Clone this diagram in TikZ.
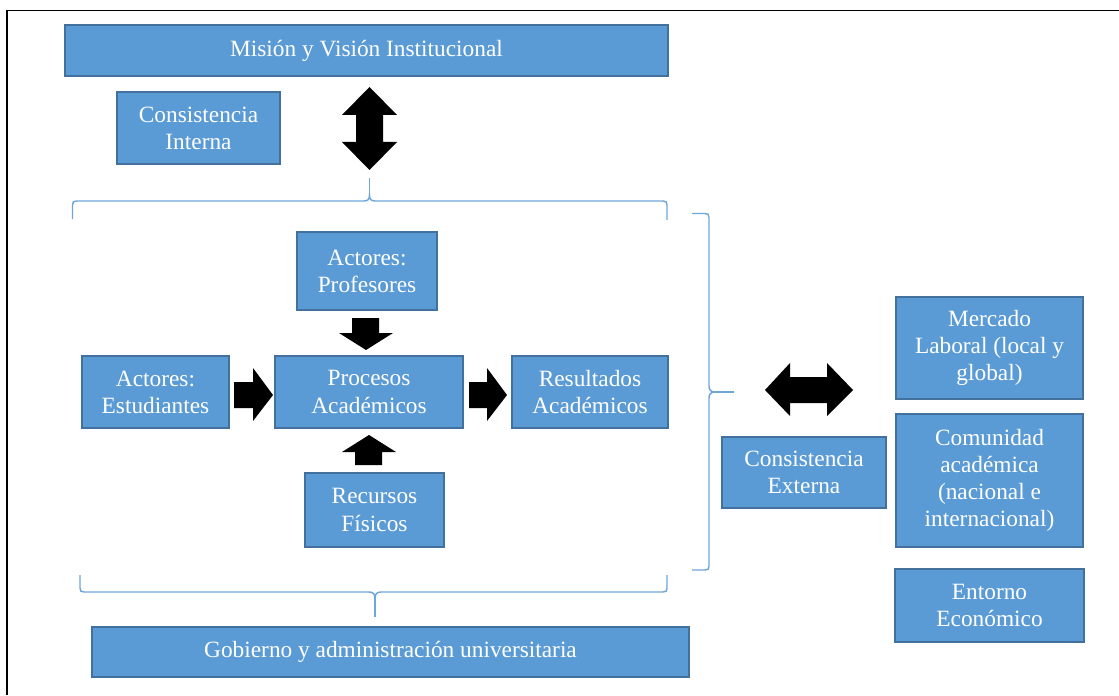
\documentclass[tikz,border=0pt]{standalone}
\usepackage{fontspec}
\setmainfont{Liberation Serif}
\begin{document}
\definecolor{boxfill}{HTML}{5B9BD5}
\definecolor{boxedge}{HTML}{41719C}
\definecolor{bracecol}{HTML}{6FA6DA}
\begin{tikzpicture}[x=0.75pt,y=-0.75pt,
  box/.style={draw=boxedge, fill=boxfill, line width=0.9pt, text=white,
    align=center, inner sep=0pt,
    font=\fontsize{17.5pt}{20.3pt}\selectfont},
  brace/.style={draw=bracecol, line width=1.1pt},
  blockarrow/.style={fill=black}]
\useasboundingbox (0,0) rectangle (1119,695);
% page frame
\draw[line width=1.2pt] (7,695) -- (7,10.5) -- (1119,10.5);

% boxes
\node[box, minimum width=452.25pt, minimum height=38.25pt] (mision) at (366.5,50.5) {Misión y Visión Institucional};
\node[box, minimum width=122.25pt, minimum height=54pt] (cint) at (198.5,128) {Consistencia\\Interna};
\node[box, minimum width=105pt, minimum height=58.5pt] (prof) at (367,271) {Actores:\\Profesores};
\node[box, minimum width=110.25pt, minimum height=54pt] (est) at (155.5,392) {Actores:\\Estudiantes};
\node[box, minimum width=141pt, minimum height=54pt] (proc) at (369,392) {Procesos\\Académicos};
\node[box, minimum width=117pt, minimum height=54pt] (res) at (590,392) {Resultados\\Académicos};
\node[box, minimum width=104.25pt, minimum height=55.5pt] (rec) at (374.5,510) {Recursos\\Físicos};
\node[box, minimum width=123pt, minimum height=53.25pt] (cext) at (804,472.5) {Consistencia\\Externa};
\node[box, minimum width=140.25pt, minimum height=76.5pt] (merc) at (989.5,348) {Mercado\\Laboral (local y\\global)};
\node[box, minimum width=140.25pt, minimum height=99.75pt] (com) at (989.5,480.5) {Comunidad\\académica\\(nacional e\\internacional)};
\node[box, minimum width=141.75pt, minimum height=54.75pt] (ent) at (989.5,605.5) {Entorno\\Económico};
\node[box, minimum width=447.75pt, minimum height=37.5pt] (gob) at (390.5,652) {Gobierno y administración universitaria};

% block arrows
\fill[blockarrow] (369.5,87) -- (397,115) -- (383,115) -- (383,142) -- (397,142)
  -- (369.5,170) -- (342,142) -- (356,142) -- (356,115) -- (342,115) -- cycle;
\fill[blockarrow] (352,318) -- (379,318) -- (379,333) -- (393,333) -- (366,350)
  -- (339,333) -- (352,333) -- cycle;
\fill[blockarrow] (234,382) -- (253,382) -- (253,368) -- (273,395) -- (253,421)
  -- (253,408) -- (234,408) -- cycle;
\fill[blockarrow] (469,382) -- (487,382) -- (487,368) -- (507,395) -- (487,421)
  -- (487,408) -- (469,408) -- cycle;
\fill[blockarrow] (369,435) -- (396,452) -- (382,452) -- (382,465) -- (355,465)
  -- (355,452) -- (342,452) -- cycle;
\fill[blockarrow] (765,390) -- (790,363) -- (790,377) -- (827,377) -- (827,363)
  -- (853,390) -- (827,416) -- (827,403) -- (790,403) -- (790,416) -- cycle;

% top brace
\draw[brace] (72.5,219) -- (72.5,205) .. controls (72.5,202) and (73.5,201) .. (76.5,201) -- (364,201)
  .. controls (368,201) and (369.5,199) .. (369.5,195)
  .. controls (369.5,199) and (371,201) .. (375,201) -- (663,201)
  .. controls (666,201) and (667,202) .. (667,205) -- (667,220);
\draw[brace] (369.5,195) -- (369.5,178);
% right brace
\draw[brace] (692,213.5) -- (705,213.5) .. controls (708,213.5) and (709,214.5) .. (709,217.5) -- (709,386)
  .. controls (709,390) and (711,392) .. (715,392)
  .. controls (711,392) and (709,394) .. (709,398) -- (709,566)
  .. controls (709,569) and (708,570) .. (705,570) -- (692,570);
\draw[brace] (715,392) -- (734,392);
% bottom brace
\draw[brace] (80,575) -- (80,588) .. controls (80,591) and (81,592) .. (84,592) -- (369,592)
  .. controls (373,592) and (375,594) .. (375,598)
  .. controls (375,594) and (377,592) .. (381,592) -- (663,592)
  .. controls (666,592) and (667,591) .. (667,588) -- (667,575);
\draw[brace] (375,598) -- (375,617);
\end{tikzpicture}
\end{document}
